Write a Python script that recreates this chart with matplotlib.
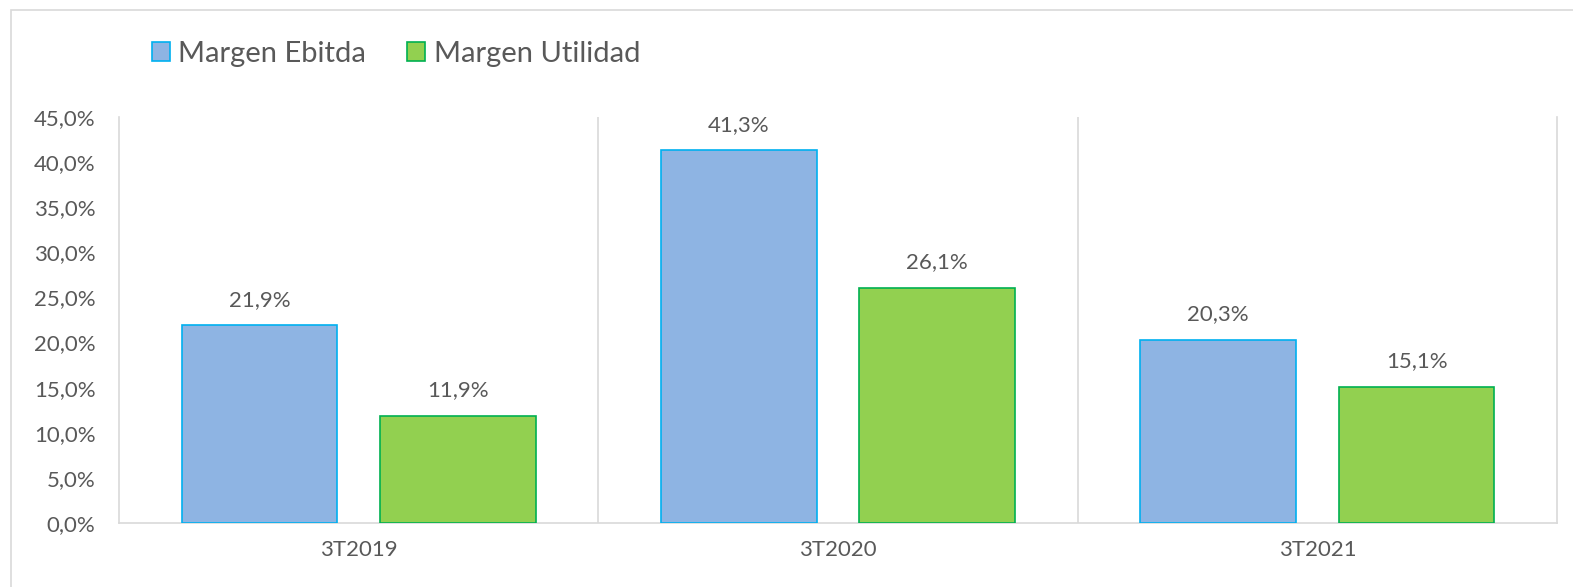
import matplotlib.pyplot as plt
from matplotlib.patches import Rectangle
import numpy as np

plt.rcParams.update({'font.family': ['Lato', 'DejaVu Sans']})

categories = ['3T2019', '3T2020', '3T2021']
margen_ebitda = [21.9, 41.3, 20.3]
margen_utilidad = [11.9, 26.1, 15.1]
series_names = ['Margen Ebitda', 'Margen Utilidad']
yticks = [0, 5, 10, 15, 20, 25, 30, 35, 40, 45]

text_color = '#595959'
grid_color = '#D9D9D9'

fig = plt.figure(figsize=[15.73, 5.87], dpi=100)
ax = fig.add_axes([119/1573, 1-523/587, (1557-119)/1573, (523-117)/587])

# outer chart border (only top and left are visible)
fig.patches.append(Rectangle((11/1573, -0.1), 1.2, 1-10/587+0.1, transform=fig.transFigure,
                             fill=False, edgecolor=grid_color, linewidth=1.2))

x = np.arange(len(categories))
w = 0.325
b1 = ax.bar(x - 0.207, margen_ebitda, w, color='#8EB4E3', edgecolor='#00B0F0',
            linewidth=1.2, label=series_names[0], zorder=3)
b2 = ax.bar(x + 0.207, margen_utilidad, w, color='#92D050', edgecolor='#00B050',
            linewidth=1.2, label=series_names[1], zorder=3)

for bars in (b1, b2):
    ax.bar_label(bars, labels=[f'{v:.1f}%'.replace('.', ',') for v in bars.datavalues],
                 padding=11, fontsize=16, color=text_color)

ax.set_xlim(-0.5, 2.5)
ax.set_ylim(0, 45)
ax.set_yticks(yticks)
ax.set_yticklabels([f'{t:.1f}%'.replace('.', ',') for t in yticks])
ax.set_xticks(x)
ax.set_xticklabels(categories)
ax.tick_params(length=0, labelsize=16, colors=text_color)
ax.tick_params(axis='x', pad=12)
ax.tick_params(axis='y', pad=17)

# vertical category separators
for xv in [0.5, 1.5]:
    ax.axvline(xv, color=grid_color, linewidth=1.2, zorder=1)
ax.spines['top'].set_visible(False)
for side in ['left', 'right', 'bottom']:
    ax.spines[side].set_color(grid_color)
    ax.spines[side].set_linewidth(1.2)

fig.legend(loc='upper left', bbox_to_anchor=(140/1573, 1-29/587), ncol=2, frameon=False,
           fontsize=21, labelcolor=text_color, handlelength=0.62, handleheight=0.62,
           handletextpad=0.3, columnspacing=1.4, borderaxespad=0)

fig.savefig('out.png', dpi=100)
